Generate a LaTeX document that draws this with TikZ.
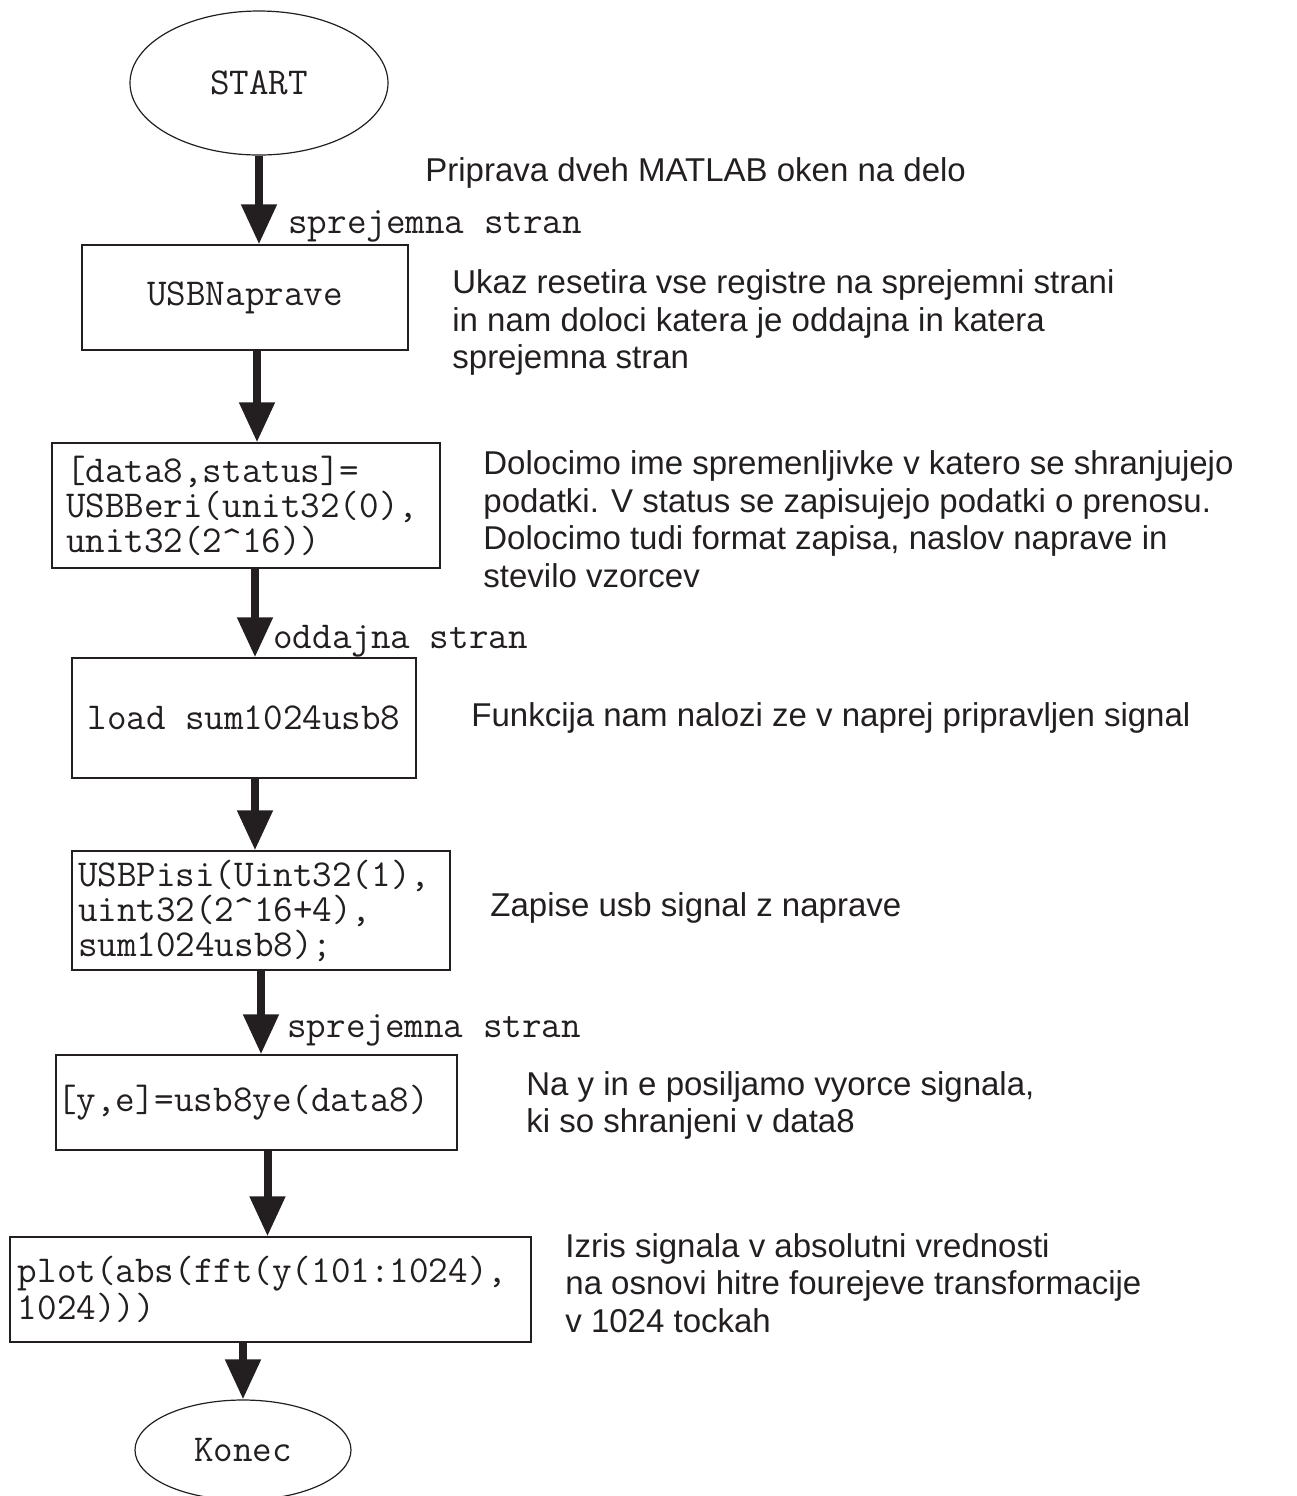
\documentclass[tikz,border=0pt]{standalone}
\usepackage{xcolor}
\usepackage{fontspec}
\setmainfont{Liberation Sans}
\usepackage{tikz}
\usetikzlibrary{positioning, shapes.geometric, arrows.meta}
\definecolor{ink}{HTML}{231F20}
\newcommand{\flowcode}{\ttfamily\fontsize{19}{17.5}\selectfont}
\newcommand{\flownote}{\rmfamily\fontsize{16.5}{18.75}\selectfont}

\begin{document}
\begin{tikzpicture}[x=0.5pt, y=-0.5pt,
	term/.style={draw=ink, line width=0.6pt, ellipse, inner sep=0pt, font=\flowcode, text=ink},
	proc/.style={draw=ink, line width=0.7pt, rectangle, inner ysep=0pt, align=left, font=\flowcode, text=ink},
	flow/.style={draw=ink, line width=4pt, -{Triangle[width=17pt, length=20pt]}},
	note/.style={anchor=west, align=left, inner xsep=0pt, font=\flownote, text=ink},
	side/.style={anchor=west, inner xsep=0pt, font=\flowcode, text=ink}]
	\useasboundingbox (0,0) rectangle (1297,1496);
	
	% Flow nodes
	\node[term, minimum width=129pt, minimum height=72pt] (start) at (259,83) {START};
	\node[proc, minimum width=163pt, minimum height=52.5pt] (naprave) at (245,297.5) {USBNaprave};
	\node[proc, text width=180pt, inner xsep=7pt, minimum height=62.5pt] (beri) at (246,505.5) {[data8,status]=\\USBBeri(unit32(0),\\unit32(2\textasciicircum16))};
	\node[proc, minimum width=172pt, minimum height=60pt] (load) at (244,718) {load sum1024usb8};
	\node[proc, text width=183pt, inner xsep=3pt, minimum height=59.5pt] (pisi) at (261,910.5) {USBPisi(Uint32(1),\\uint32(2\textasciicircum16+4),\\sum1024usb8);};
	\node[proc, text width=199.5pt, inner xsep=0.5pt, minimum height=47.5pt] (ye) at (256.5,1102.5) {[y,e]=usb8ye(data8)};
	\node[proc, text width=252.5pt, inner xsep=4pt, minimum height=52.5pt] (plot) at (270.5,1289.5) {plot(abs(fft(y(101:1024),\\1024)))};
	\node[term, minimum width=108pt, minimum height=50pt] (konec) at (243,1450) {Konec};
	
	% Arrows
	\draw[flow] (start.south) -- (start.south |- naprave.north);
	\draw[flow] ([xshift=6pt]naprave.south) -- ([xshift=6pt]naprave.south |- beri.north);
	\draw[flow] ([xshift=4.5pt]beri.south) -- ([xshift=4.5pt]beri.south |- load.north);
	\draw[flow] ([xshift=5.5pt]load.south) -- ([xshift=5.5pt]load.south |- pisi.north);
	\draw[flow] (pisi.south) -- (pisi.south |- ye.north);
	\draw[flow] ([xshift=5.5pt]ye.south) -- ([xshift=5.5pt]ye.south |- plot.north);
	\draw[flow] (konec.north |- plot.south) -- (konec.north);
	
	% Side labels
	\node[side] (sprejem1) at (288,226) {sprejemna stran};
	\node[side] (oddaj) at (273,641) {oddajna stran};
	\node[side] (sprejem2) at (287,1030) {sprejemna stran};
	
	% Comments
	\node[note] (priprava) at (425,173) {Priprava dveh MATLAB oken na delo};
	\node[note] (ukaz) at (452,322.5) {Ukaz resetira vse registre na sprejemni strani\\in nam doloci katera je oddajna in katera\\sprejemna stran};
	\node[note] (dolocimo) at (483,519) {Dolocimo ime spremenljivke v katero se shranjujejo\\podatki. V status se zapisujejo podatki o prenosu.\\Dolocimo tudi format zapisa, naslov naprave in\\stevilo vzorcev};
	\node[note] (funkcija) at (471,718) {Funkcija nam nalozi ze v naprej pripravljen signal};
	\node[note] (zapise) at (490,908) {Zapise usb signal z naprave};
	\node[note] (nay) at (526,1105.5) {Na y in e posiljamo vyorce signala,\\ki so shranjeni v data8};
	\node[note] (izris) at (565,1283) {Izris signala v absolutni vrednosti\\na osnovi hitre fourejeve transformacije\\v 1024 tockah};
\end{tikzpicture}
\end{document}
